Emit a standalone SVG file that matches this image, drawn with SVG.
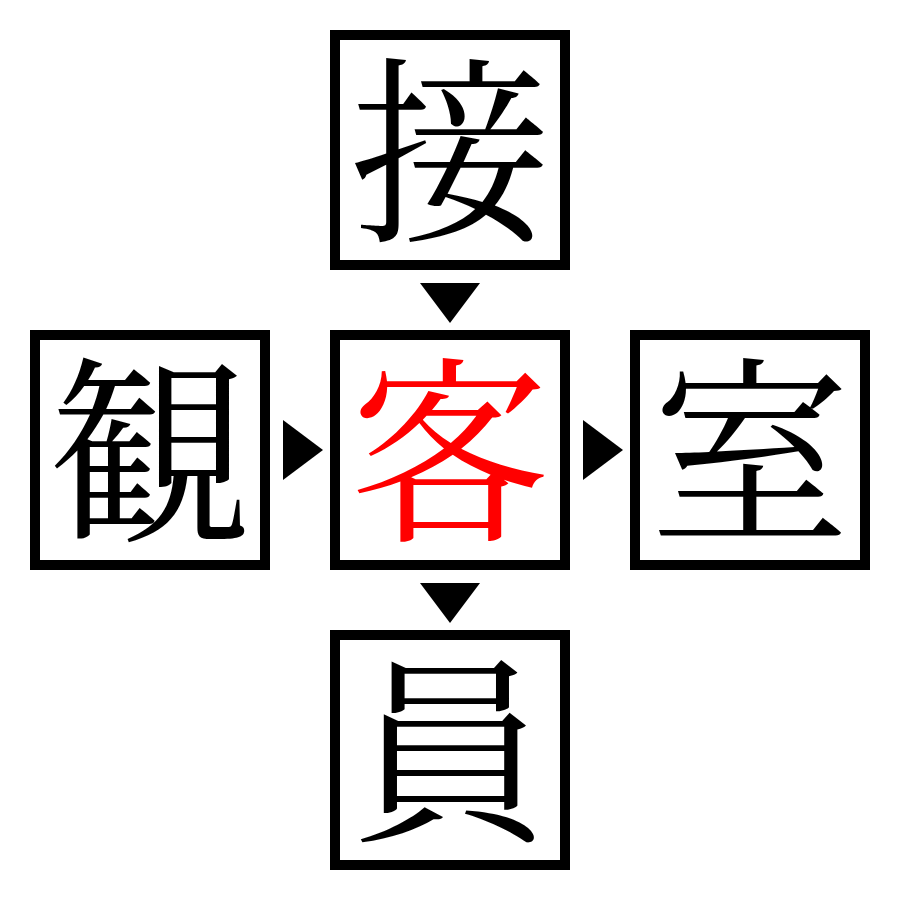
<svg xmlns="http://www.w3.org/2000/svg" width="900" height="900" viewBox="0 0 900 900">
<style>
.box{fill:#fff;stroke:#000;stroke-width:10}
.ch{font-family:"Noto Serif CJK JP","Noto Sans CJK JP",serif;font-size:200px;text-anchor:middle}
.arr{fill:#000}
</style>
<rect width="900" height="900" fill="#fff"/>
<g id="connectors">
<polygon class="arr" points="420,283 480,283 450,323"/>
<polygon class="arr" points="283,420 283,480 323,450"/>
<polygon class="arr" points="583,420 583,480 623,450"/>
<polygon class="arr" points="420,583 480,583 450,623"/>
</g>
<g id="node-top"><rect class="box" x="335" y="35" width="230" height="230"/><text class="ch" x="450" y="226">接</text></g>
<g id="node-left"><rect class="box" x="35" y="335" width="230" height="230"/><text class="ch" x="150" y="526">観</text></g>
<g id="node-center"><rect class="box" x="335" y="335" width="230" height="230"/><text class="ch" x="450" y="526" fill="#ff0000">客</text></g>
<g id="node-right"><rect class="box" x="635" y="335" width="230" height="230"/><text class="ch" x="750" y="526">室</text></g>
<g id="node-bottom"><rect class="box" x="335" y="635" width="230" height="230"/><text class="ch" x="450" y="826">員</text></g>
</svg>
